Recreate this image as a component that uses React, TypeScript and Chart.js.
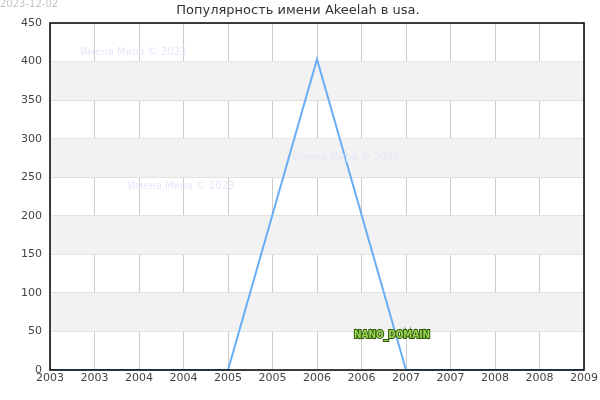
import React, { useEffect, useRef } from 'react';
import Chart from 'chart.js/auto';

const years = [2003, 2004, 2005, 2006, 2007, 2008, 2009];
const counts = [0, 0, 0, 403, 0, 0, 0];
const tickLabels = ['2003', '2003', '2004', '2004', '2005', '2005', '2006', '2006', '2007', '2007', '2008', '2008', '2009'];
const yTicks = [0, 50, 100, 150, 200, 250, 300, 350, 400, 450];
const bands = [[50, 100], [150, 200], [250, 300], [350, 400]];
const title = 'Популярность имени Akeelah в usa.';
const dateText = '2023-12-02';
const watermark = 'Имена Мира © 2023';

const FONT = '"DejaVu Sans", sans-serif';

// bands behind, frame + texts on top
const decorPlugin = {
  id: 'decor',
  beforeDatasetsDraw(chart: any) {
    const { ctx, chartArea, scales } = chart;
    ctx.save();
    ctx.fillStyle = '#f2f2f2';
    bands.forEach(([a, b]) => {
      const y1 = scales.y.getPixelForValue(b);
      const y2 = scales.y.getPixelForValue(a);
      ctx.fillRect(chartArea.left, y1, chartArea.right - chartArea.left, y2 - y1);
    });
    ctx.restore();
  },
  afterDraw(chart: any) {
    const { ctx, chartArea } = chart;
    ctx.save();
    ctx.strokeStyle = '#000';
    ctx.lineWidth = 1.5;
    ctx.strokeRect(chartArea.left, chartArea.top, chartArea.right - chartArea.left, chartArea.bottom - chartArea.top);

    ctx.font = '13px ' + FONT;
    ctx.fillStyle = '#333';
    ctx.textAlign = 'center';
    ctx.textBaseline = 'middle';
    ctx.fillText(title, 298, 11);

    ctx.font = '10px ' + FONT;
    ctx.fillStyle = '#c4c4c4';
    ctx.textAlign = 'left';
    ctx.fillText(dateText, 0, 4);

    ctx.fillStyle = 'rgba(228,228,252,0.9)';
    ctx.fillText(watermark, 80, 52);
    ctx.fillText(watermark, 128, 186);
    ctx.fillText(watermark, 293, 157);

    ctx.font = 'bold 10px "DejaVu Sans Condensed", "DejaVu Sans", sans-serif';
    ctx.lineWidth = 2;
    ctx.strokeStyle = '#2f5a0a';
    ctx.strokeText('NANO_DOMAIN', 354, 335);
    ctx.fillStyle = '#9ad452';
    ctx.fillText('NANO_DOMAIN', 354, 335);
    ctx.restore();
  },
};

export default function App() {
  const canvasRef = useRef<HTMLCanvasElement>(null);
  const chartRef = useRef<Chart | null>(null);

  useEffect(() => {
    if (!canvasRef.current) return;
    if (chartRef.current) chartRef.current.destroy();

    chartRef.current = new Chart(canvasRef.current, {
      type: 'line',
      data: {
        datasets: [
          {
            data: years.map((x, i) => ({ x, y: counts[i] })),
            borderColor: '#6aaef5',
            borderWidth: 2,
            pointRadius: 0,
            tension: 0,
            fill: false,
          },
        ],
      },
      options: {
        animation: false,
        responsive: true,
        maintainAspectRatio: false,
        layout: { padding: { top: 23, right: 15, left: 0, bottom: 0 } },
        plugins: {
          legend: { display: false },
          tooltip: { enabled: false },
          title: { display: false },
        },
        scales: {
          x: {
            type: 'linear',
            min: 2003,
            max: 2009,
            afterBuildTicks: (axis: any) => {
              axis.ticks = tickLabels.map((_, i) => ({ value: 2003 + i * 0.5 }));
            },
            afterFit: (axis: any) => {
              axis.height = 30;
            },
            ticks: {
              autoSkip: false,
              maxRotation: 0,
              color: '#444',
              font: { family: FONT, size: 11 },
              padding: 2,
              callback: (_v: any, i: number) => tickLabels[i],
            },
            grid: { color: '#cccccc', drawTicks: false },
            border: { display: false },
          },
          y: {
            min: 0,
            max: 450,
            afterBuildTicks: (axis: any) => {
              axis.ticks = yTicks.map((v) => ({ value: v }));
            },
            afterFit: (axis: any) => {
              axis.width = 50;
            },
            ticks: {
              color: '#444',
              font: { family: FONT, size: 11 },
              padding: 8,
            },
            grid: { color: '#dddddd', drawTicks: false },
            border: { display: false },
          },
        },
      },
      plugins: [decorPlugin],
    });

    return () => {
      if (chartRef.current) {
        chartRef.current.destroy();
        chartRef.current = null;
      }
    };
  }, []);

  return (
    <div style={{ position: 'fixed', left: 0, top: 0, width: 600, height: 400, background: '#fff' }}>
      <canvas ref={canvasRef}></canvas>
    </div>
  );
}
